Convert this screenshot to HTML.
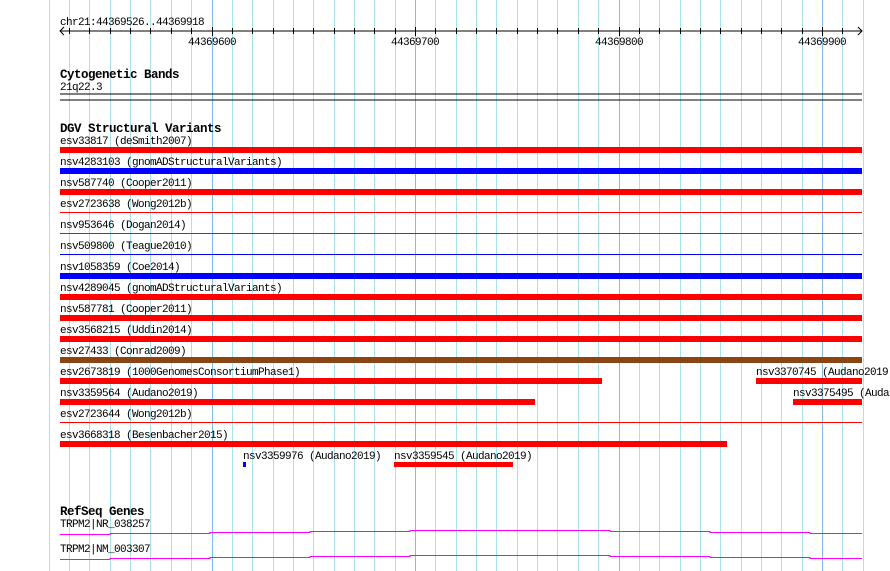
<!DOCTYPE html>
<html><head><style>
html,body{margin:0;padding:0;background:#fff;}
svg text{font-family:"Liberation Mono","DejaVu Sans Mono",monospace;font-size:11px;letter-spacing:-0.6px;fill:#000;}
svg text.h{font-weight:bold;font-size:12.5px;letter-spacing:-0.5px;}
</style></head><body>
<svg id="s" width="890" height="571" xmlns="http://www.w3.org/2000/svg" style="display:block">
<g id="grid"></g>
<g id="ticks"></g>
<line x1="60" y1="31" x2="862" y2="31" stroke="#000"/>
<path d="M64,27 L60,31 L64,35" fill="none" stroke="#000"/>
<path d="M858,27 L862,31 L858,35" fill="none" stroke="#000"/>
<text x="60" y="25">chr21:44369526..44369918</text>
<text x="188" y="45">44369600</text>
<text x="391" y="45">44369700</text>
<text x="595" y="45">44369800</text>
<text x="798" y="45">44369900</text>

<text class="h" x="60" y="78">Cytogenetic Bands</text>
<text x="60" y="90">21q22.3</text>
<rect x="60" y="93.5" width="802" height="1" fill="#000"/>
<rect x="60" y="99.5" width="802" height="1" fill="#000"/>

<text class="h" x="60" y="132">DGV Structural Variants</text>
<text x="60" y="144">esv33817 (deSmith2007)</text>
<rect x="60" y="147" width="802" height="6" fill="#f00"/>
<text x="60" y="165">nsv4283103 (gnomADStructuralVariants)</text>
<rect x="60" y="168" width="802" height="6" fill="#00f"/>
<text x="60" y="186">nsv587740 (Cooper2011)</text>
<rect x="60" y="189" width="802" height="6" fill="#f00"/>
<text x="60" y="207">esv2723638 (Wong2012b)</text>
<rect x="60" y="212" width="802" height="1" fill="#f00"/>
<text x="60" y="228">nsv953646 (Dogan2014)</text>
<rect x="60" y="233" width="802" height="1" fill="#f00"/>
<text x="60" y="249">nsv509800 (Teague2010)</text>
<rect x="60" y="254" width="802" height="1" fill="#00f"/>
<text x="60" y="270">nsv1058359 (Coe2014)</text>
<rect x="60" y="273" width="802" height="6" fill="#00f"/>
<text x="60" y="291">nsv4289045 (gnomADStructuralVariants)</text>
<rect x="60" y="294" width="802" height="6" fill="#f00"/>
<text x="60" y="312">nsv587781 (Cooper2011)</text>
<rect x="60" y="315" width="802" height="6" fill="#f00"/>
<text x="60" y="333">esv3568215 (Uddin2014)</text>
<rect x="60" y="336" width="802" height="6" fill="#f00"/>
<text x="60" y="354">esv27433 (Conrad2009)</text>
<rect x="60" y="357" width="802" height="6" fill="#8b4513"/>
<text x="60" y="375">esv2673819 (1000GenomesConsortiumPhase1)</text>
<rect x="60" y="378" width="542" height="6" fill="#f00"/>
<text x="756" y="375">nsv3370745 (Audano2019)</text>
<rect x="756" y="378" width="106" height="6" fill="#f00"/>
<text x="60" y="396">nsv3359564 (Audano2019)</text>
<rect x="60" y="399" width="475" height="6" fill="#f00"/>
<text x="793" y="396">nsv3375495 (Audano2019)</text>
<rect x="793" y="399" width="69" height="6" fill="#f00"/>
<text x="60" y="417">esv2723644 (Wong2012b)</text>
<rect x="60" y="422" width="802" height="1" fill="#f00"/>
<text x="60" y="438">esv3668318 (Besenbacher2015)</text>
<rect x="60" y="441" width="667" height="6" fill="#f00"/>
<text x="243" y="459">nsv3359976 (Audano2019)</text>
<rect x="243" y="462" width="3" height="5" fill="#00f"/>
<text x="394" y="459">nsv3359545 (Audano2019)</text>
<rect x="394" y="462" width="119" height="5" fill="#f00"/>

<text class="h" x="60" y="515">RefSeq Genes</text>
<text x="60" y="527">TRPM2|NR_038257</text>
<path d="M60,534.5H110V533.5H210V532.5H310V531.5H410V530.5H610V531.5H710V532.5H810V533.5H862" fill="none" stroke="#f0f"/>
<text x="60" y="552">TRPM2|NM_003307</text>
<path d="M60,559.5H110V558.5H210V557.5H310V556.5H410V555.5H610V556.5H710V557.5H810V558.5H862" fill="none" stroke="#f0f"/>
</svg>
<script>
var g=document.getElementById('grid'),t=document.getElementById('ticks'),ns='http://www.w3.org/2000/svg';
for(var k=-8;k<=32;k++){var x=Math.round(211.5+20.35*k)+0.5;
var l=document.createElementNS(ns,'line');l.setAttribute('x1',x);l.setAttribute('x2',x);l.setAttribute('y1',0);l.setAttribute('y2',571);
l.setAttribute('stroke',(k%10==0)?'#80c0e8':'#a8e4ec');l.setAttribute('stroke-width',1);g.appendChild(l);
if(x>=60&&x<=862){var m=document.createElementNS(ns,'line');m.setAttribute('x1',x);m.setAttribute('x2',x);
m.setAttribute('y1',(k%10==0)?27:28);m.setAttribute('y2',(k%10==0)?36:34);m.setAttribute('stroke','#000');t.appendChild(m);}}
</script>
</body></html>
